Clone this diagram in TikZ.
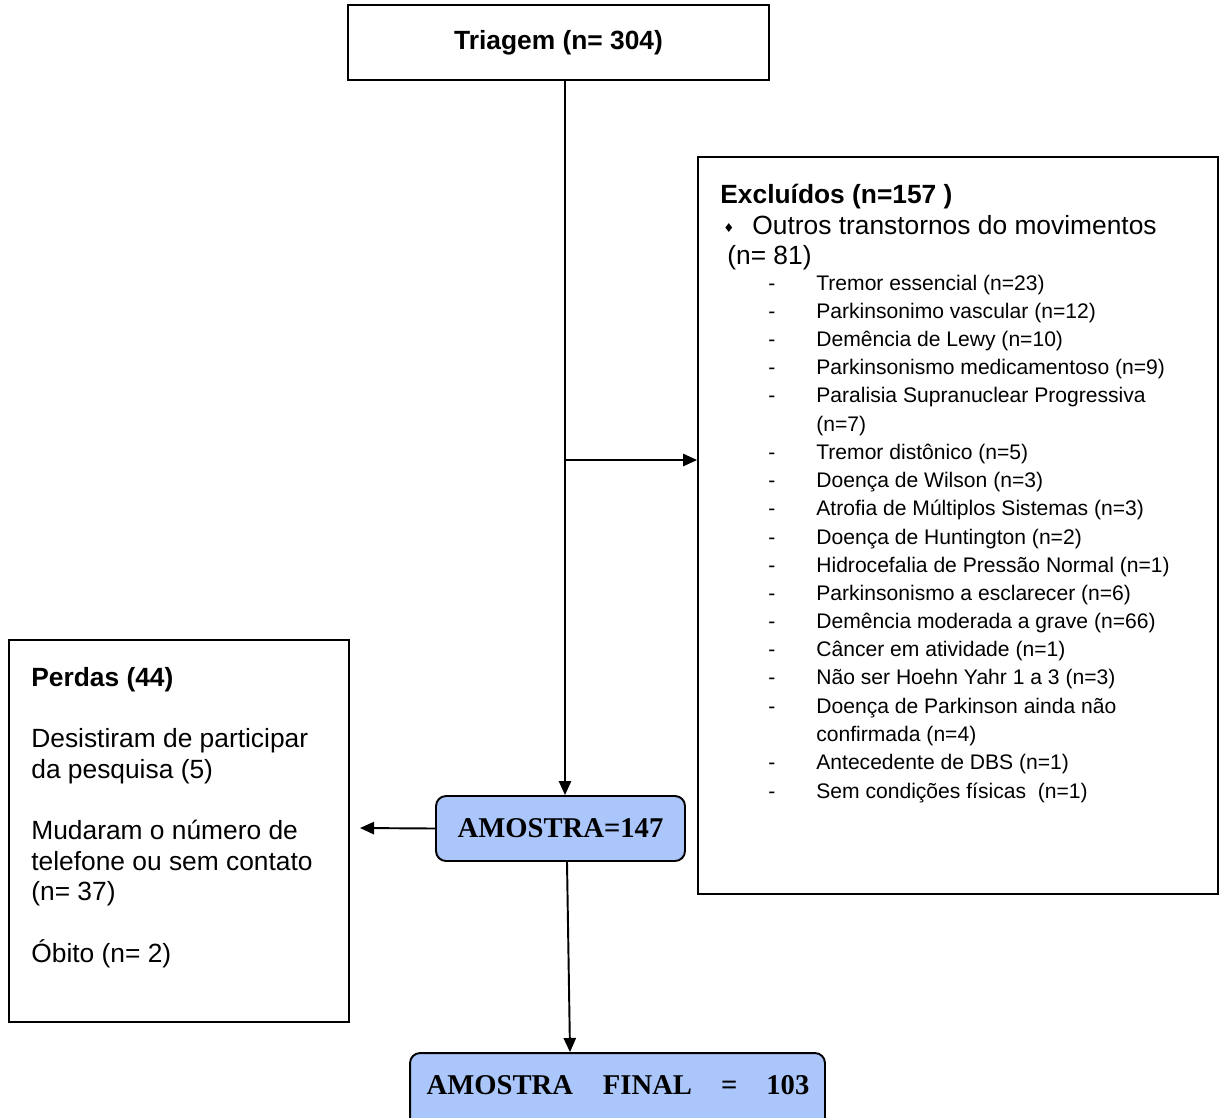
\documentclass[tikz,border=0pt]{standalone}
\usepackage{fontspec}
\setmainfont{Liberation Sans}
\newfontfamily\serifb{Liberation Serif}
\newfontfamily\djv{DejaVu Sans}
\usetikzlibrary{arrows.meta}
\definecolor{boxblue}{RGB}{170,198,250}
\tikzset{
  box/.style={draw, line width=1.1pt, inner sep=0pt},
  bluebox/.style={draw, line width=1.1pt, fill=boxblue, rounded corners=0.2cm, inner sep=0pt},
  bluetext/.style={font=\serifb\fontsize{16.3}{19}\selectfont\bfseries, inner sep=0pt},
  arr/.style={line width=1.1pt, -{Triangle[length=8pt,width=7pt]}},
  big/.style={font=\fontsize{15}{18}\selectfont, inner sep=0pt, anchor=base west},
  bigb/.style={font=\fontsize{15}{18}\selectfont\bfseries, inner sep=0pt, anchor=base west},
  small/.style={font=\fontsize{12}{14}\selectfont, inner sep=0pt, anchor=base west},
}
\begin{document}
\begin{tikzpicture}[x=0.02cm,y=-0.02cm]
\useasboundingbox (0,0) rectangle (1219,1117);
\fill[white] (0,0) rectangle (1219,1117);

% boxes
\node[box, minimum width=8.42cm, minimum height=1.5cm, font=\fontsize{15}{18}\selectfont\bfseries] (tri) at (558.5,42.5) {Triagem (n= 304)};
\node[box, minimum width=10.4cm, minimum height=14.74cm] (excl) at (958,525.5) {};
\node[box, minimum width=6.8cm, minimum height=7.64cm] (perd) at (179,831) {};
\node[bluebox, bluetext, minimum width=4.98cm, minimum height=1.3cm] (am) at (560.5,828.5) {AMOSTRA=147};
\node[bluebox, minimum width=8.3cm, minimum height=1.6cm] (fin) at (617.5,1093) {};
\node[bluetext] (fint) at (618,1085) {AMOSTRA\hspace{0.6cm}FINAL\hspace{0.58cm}=\hspace{0.58cm}103};

% excluded text
\node[bigb] (exh) at (720,203) {Excluídos (n=157 )};
\node[inner sep=0pt, anchor=base west, font=\djv\fontsize{7}{8}\selectfont] (dia) at (723,232) {♦};
\node[big] (ex1) at (752,234) {Outros transtornos do movimentos};
\node[big] (ex2) at (727,264) {(n= 81)};
\foreach \y/\d/\t in {
  283/-/{Tremor essencial (n=23)},
  311/-/{Parkinsonimo vascular (n=12)},
  339/-/{Demência de Lewy (n=10)},
  367/-/{Parkinsonismo medicamentoso (n=9)},
  395/-/{Paralisia Supranuclear Progressiva},
  424/{}/{(n=7)},
  452/-/{Tremor distônico (n=5)},
  480/-/{Doença de Wilson (n=3)},
  508/-/{Atrofia de Múltiplos Sistemas (n=3)},
  537/-/{Doença de Huntington (n=2)},
  565/-/{Hidrocefalia de Pressão Normal (n=1)},
  593/-/{Parkinsonismo a esclarecer (n=6)},
  621/-/{Demência moderada a grave (n=66)},
  649/-/{Câncer em atividade (n=1)},
  677/-/{Não ser Hoehn Yahr 1 a 3 (n=3)},
  706/-/{Doença de Parkinson ainda não},
  734/{}/{confirmada (n=4)},
  762/-/{Antecedente de DBS (n=1)},
  791/-/{Sem condições físicas\ \ (n=1)}
}{
  \node[small] (d\y) at (768,\y+7) {\d};
  \node[small] (t\y) at (816,\y+7) {\t};
}

% losses text
\node[bigb] (p0) at (31,686) {Perdas (44)};
\node[big] (p1) at (31,747) {Desistiram de participar};
\node[big] (p2) at (31,778) {da pesquisa (5)};
\node[big] (p3) at (31,839) {Mudaram o número de};
\node[big] (p4) at (31,870) {telefone ou sem contato};
\node[big] (p5) at (31,900) {(n= 37)};
\node[big] (p6) at (31,962) {Óbito (n= 2)};

% connectors
\coordinate (j) at (565,460);
\coordinate (pl) at (360,828);
\draw[line width=1.1pt] (tri.south -| j) -- (j);
\draw[arr] (j) -- (am.north -| j);
\draw[arr] (j) -- (j -| excl.west);
\draw[arr] (am.west) -- (pl);
\draw[arr] ([xshift=0.13cm]am.south) -- ([xshift=-0.95cm]fin.north);
\end{tikzpicture}
\end{document}
